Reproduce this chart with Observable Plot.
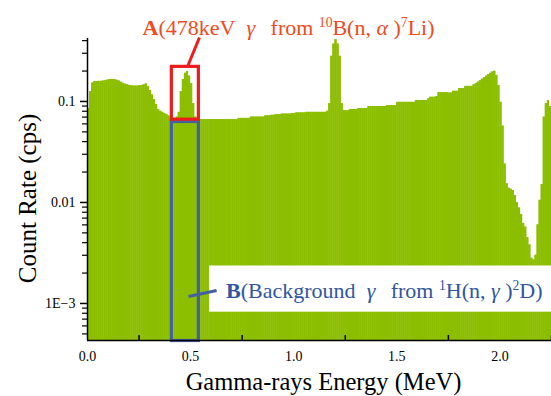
<!DOCTYPE html>
<html><head><meta charset="utf-8">
<script src="https://cdn.jsdelivr.net/npm/d3@7"></script>
<script src="https://cdn.jsdelivr.net/npm/@observablehq/plot@0.6"></script>
<style>body{margin:0;background:#fff;} #chart svg{display:block;}</style>
</head><body><div id="chart"></div>
<script>
// ---- data ----
const binWidth = 0.01;           // MeV per channel
const countRate = [
  0.085,0.125,0.152,0.157,0.157,0.158,0.158,0.159,0.160,0.162,
  0.164,0.165,0.165,0.164,0.162,0.159,0.155,0.151,0.148,0.146,
  0.144,0.143,0.142,0.142,0.142,0.143,0.144,0.146,0.149,0.140,
  0.128,0.116,0.104,0.093,0.083,0.080,0.078,0.076,0.074,0.072,
  0.069,0.067,0.066,0.070,0.078,0.125,0.165,0.190,0.197,0.178,
  0.150,0.095,0.070,0.066,0.066,0.066,0.066,0.066,0.066,0.066,
  0.066,0.066,0.066,0.066,0.066,0.066,0.066,0.066,0.066,0.066,
  0.066,0.066,0.066,0.068,0.068,0.068,0.068,0.068,0.068,0.070,
  0.070,0.070,0.070,0.070,0.070,0.070,0.072,0.072,0.072,0.073,
  0.073,0.074,0.074,0.074,0.075,0.075,0.075,0.075,0.075,0.076,
  0.076,0.077,0.077,0.077,0.077,0.077,0.078,0.078,0.078,0.078,
  0.078,0.078,0.078,0.078,0.078,0.078,0.080,0.095,0.280,0.370,
  0.410,0.370,0.280,0.095,0.081,0.081,0.081,0.083,0.083,0.083,
  0.083,0.085,0.085,0.085,0.085,0.085,0.089,0.089,0.089,0.089,
  0.089,0.089,0.089,0.089,0.089,0.091,0.091,0.091,0.091,0.091,
  0.098,0.098,0.098,0.098,0.098,0.098,0.098,0.098,0.098,0.102,
  0.102,0.102,0.102,0.102,0.102,0.106,0.110,0.110,0.110,0.112,
  0.122,0.122,0.122,0.122,0.122,0.121,0.121,0.126,0.126,0.126,
  0.134,0.134,0.134,0.141,0.141,0.141,0.141,0.146,0.150,0.155,
  0.160,0.166,0.172,0.178,0.184,0.190,0.196,0.199,0.181,0.144,
  0.098,0.057,0.024,0.0153,0.0138,0.0135,0.0131,0.0117,0.0100,0.0088,
  0.0076,0.0062,0.0057,0.0045,0.0038,0.0028,0.0027,0.0030,0.0060,0.0105,
  0.0150,0.070,0.095,0.102,0.089
];
const xLabelValues = [0, 0.5, 1.0, 1.5, 2.0];
const xLabelTexts  = ["0.0", "0.5", "1.0", "1.5", "2.0"];
const xTickValues  = [0.25, 0.75, 1.25, 1.75, 2.25];
const yLabelValues = [0.1, 0.01, 0.001];
const yLabelTexts  = ["0.1", "0.01", "1E\u22123"];
const yMinorValues = [0.4,0.3,0.2, 0.09,0.08,0.07,0.06,0.05,0.04,0.03,0.02,
                      0.009,0.008,0.007,0.006,0.005,0.004,0.003,0.002,
                      0.0009,0.0008,0.0007,0.0006,0.0005];
const xTitle = "Gamma-rays Energy (MeV)";
const yTitle = "Count Rate (cps)";
const labelAParts = [["A","b"],["(478keV\u2002",""],["\u03B3","i"],["\u2002\u2009from ",""],["10","sup"],["B(n, ",""],["\u03B1","i"],[" )",""],["7","sup"],["Li)",""]];
const labelBParts = [["B","b"],["(Background\u2002",""],["\u03B3","i"],["\u2002\u2009from ",""],["1","sup"],["H(n, ",""],["\u03B3","i"],[" )",""],["2","sup"],["D)",""]];

// ---- layout ----
const xDomain = [0, 2.25];
const yDomain = [4.3e-4, 0.42];
const bins = countRate.map((v, i) => ({e0: i * binWidth, e1: (i + 1) * binWidth, v}));
const plainA = labelAParts.map(d => d[0]).join("");
const plainB = labelBParts.map(d => d[0]).join("");
const boxA = [{x1: 0.409, x2: 0.540, y1: 0.066, y2: 0.220}];
const boxB = [{x1: 0.409, x2: 0.540, y1: 4.25e-4, y2: 0.0626}];
const whiteB = [{x1: 0.592, x2: 2.25, y1: 8.2e-4, y2: 2.35e-3}];
const leaderA = [{x1: 0.543, y1: 0.43, x2: 0.485, y2: 0.222}];
const leaderB = [{x1: 0.490, y1: 1.17e-3, x2: 0.626, y2: 1.345e-3}];
const tickLen = yDomain[0] * Math.pow(yDomain[1] / yDomain[0], 5 / 302);
const xMap = new Map(xLabelValues.map((v, i) => [v, xLabelTexts[i]]));
const yMap = new Map(yLabelValues.map((v, i) => [v, yLabelTexts[i]]));
const serif = "'Liberation Serif', 'Times New Roman', serif";
const red = "#ee1c1c", redText = "#f04a1e", blue = "#43619c", blueText = "#2f56a0";
const annSize = 22;
const barColor = "#8cbe00";

const chart = Plot.plot({
  width: 551, height: 396,
  marginLeft: 87, marginRight: 0, marginTop: 38, marginBottom: 56,
  style: {fontFamily: serif, fontSize: "14px", background: "#fff", color: "#000"},
  x: {domain: xDomain, axis: null},
  y: {type: "log", domain: yDomain, axis: null},
  marks: [
    Plot.rect(bins, {x1: "e0", x2: "e1", y1: yDomain[0], y2: "v", fill: barColor}),
    Plot.rect(bins, {x1: "e0", x2: "e1", y1: yDomain[0], y2: "v", fill: barColor}),
    Plot.rect(whiteB, {x1: "x1", x2: "x2", y1: "y1", y2: "y2", fill: "#fff"}),
    Plot.rect(boxB, {x1: "x1", x2: "x2", y1: "y1", y2: "y2", fill: "none", stroke: blue, strokeWidth: 3.2}),
    Plot.rect(boxA, {x1: "x1", x2: "x2", y1: "y1", y2: "y2", fill: "none", stroke: red, strokeWidth: 3.2}),
    Plot.link(leaderA, {x1: "x1", y1: "y1", x2: "x2", y2: "y2", stroke: red, strokeWidth: 3}),
    Plot.link(leaderB, {x1: "x1", y1: "y1", x2: "x2", y2: "y2", stroke: blue, strokeWidth: 3}),
    Plot.text([plainA], {x: 0.975, y: 0.54, text: d => d, fill: redText, fontSize: annSize, textAnchor: "middle", lineAnchor: "middle"}),
    Plot.text([plainB], {x: 0.672, y: 1.345e-3, text: d => d, fill: blueText, fontSize: annSize, textAnchor: "start", lineAnchor: "middle"}),
    Plot.ruleY([yDomain[0]], {stroke: "#000", strokeWidth: 1.5}),
    Plot.ruleX([0], {stroke: "#000", strokeWidth: 1.5}),
    Plot.ruleX(xTickValues, {x: d => d, y1: yDomain[0], y2: tickLen, stroke: "#000", strokeWidth: 1.5}),
    Plot.axisY(yLabelValues, {anchor: "left", tickSize: 7, tickPadding: 5, tickFormat: d => yMap.get(d), fontSize: 14, label: null, strokeWidth: 1.5}),
    Plot.axisY(yMinorValues, {anchor: "left", tickSize: 5, tickFormat: () => "", label: null, strokeWidth: 1.2}),
    Plot.axisX(xLabelValues, {anchor: "bottom", tickSize: 0, tickPadding: 11, tickFormat: d => xMap.get(d), fontSize: 14, label: null}),
    Plot.text([xTitle], {frameAnchor: "bottom", dx: 4, dy: 42, text: d => d, fontSize: 24.5, textAnchor: "middle", lineAnchor: "middle"}),
    Plot.text([yTitle], {frameAnchor: "left", dx: -60, dy: 9, rotate: -90, text: d => d, fontSize: 25, textAnchor: "middle", lineAnchor: "middle", letterSpacing: "1.8px"})
  ]
});

function richify(svg, plain, parts, size) {
  d3.select(svg).selectAll("text").filter(function () { return this.textContent === plain; }).each(function () {
    const t = d3.select(this);
    t.text(null);
    let shifted = false;
    for (const [s, st] of parts) {
      const sp = t.append("tspan").text(s);
      if (st === "b") sp.attr("font-weight", "bold");
      if (st === "i") sp.attr("font-style", "italic");
      if (st === "sup") { sp.attr("font-size", size * 0.62).attr("dy", -size * 0.36); shifted = true; }
      else if (shifted) { sp.attr("dy", size * 0.36); shifted = false; }
    }
  });
}
richify(chart, plainA, labelAParts, annSize);
richify(chart, plainB, labelBParts, annSize);
document.getElementById("chart").appendChild(chart);
</script>
</body></html>
